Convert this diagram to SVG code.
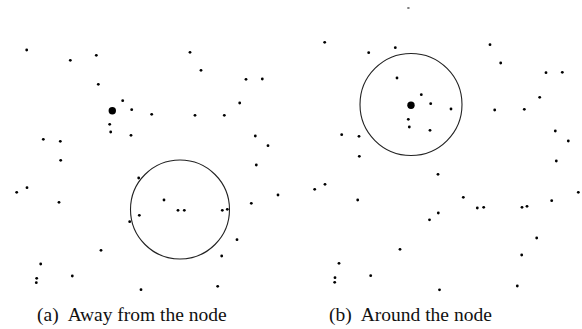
<svg xmlns="http://www.w3.org/2000/svg" width="582" height="329" viewBox="0 0 582 329">
<style>
.d{fill:#000}
.big{fill:#000}
.rng{fill:none;stroke:#222;stroke-width:1.1}
.cap{font-family:"Liberation Serif","Times New Roman",serif;font-size:19.5px;fill:#111}
</style>
<defs>
<circle id="p" r="1.4"/>
</defs>
<rect width="582" height="329" fill="#fff"/>
<g id="panel-a">
<circle class="rng" cx="180" cy="209.5" r="49.5"/>
<g class="d">
<use href="#p" x="26.7" y="50"/><use href="#p" x="70.3" y="60.3"/><use href="#p" x="96.3" y="55.3"/><use href="#p" x="98.3" y="84.3"/><use href="#p" x="122.7" y="100.7"/><use href="#p" x="131.7" y="109.7"/><use href="#p" x="109.7" y="124.3"/><use href="#p" x="110.7" y="132"/><use href="#p" x="131" y="135.3"/><use href="#p" x="43.3" y="139.3"/><use href="#p" x="60.3" y="141.3"/><use href="#p" x="60.7" y="160.3"/><use href="#p" x="190" y="52.3"/><use href="#p" x="201" y="70.3"/><use href="#p" x="246" y="79.3"/><use href="#p" x="262.3" y="79"/><use href="#p" x="239.7" y="103"/><use href="#p" x="151.7" y="114.3"/><use href="#p" x="195" y="115.3"/><use href="#p" x="224.3" y="115.3"/><use href="#p" x="255.3" y="136"/><use href="#p" x="268" y="145.7"/><use href="#p" x="27" y="187.7"/><use href="#p" x="16.7" y="192.3"/><use href="#p" x="59" y="202.3"/><use href="#p" x="138.7" y="178"/><use href="#p" x="139.3" y="215.3"/><use href="#p" x="129.7" y="221.7"/><use href="#p" x="101" y="250.3"/><use href="#p" x="40.7" y="264"/><use href="#p" x="36.7" y="278.3"/><use href="#p" x="36.3" y="282.7"/><use href="#p" x="72.3" y="276"/><use href="#p" x="141" y="289.7"/><use href="#p" x="164" y="200"/><use href="#p" x="178" y="210.3"/><use href="#p" x="184.3" y="210.3"/><use href="#p" x="222.3" y="210.3"/><use href="#p" x="227.3" y="209.3"/><use href="#p" x="256.3" y="165"/><use href="#p" x="278" y="195"/><use href="#p" x="251.3" y="203.3"/><use href="#p" x="237" y="239.7"/><use href="#p" x="221.7" y="256"/><use href="#p" x="217.7" y="286.3"/>
</g>
<circle class="big" cx="112.3" cy="110.7" r="3.7"/>
<text class="cap" x="37" y="321">(a)<tspan dx="9">Away from the node</tspan></text>
</g>
<g id="panel-b">
<circle class="rng" cx="411" cy="104.5" r="51"/>
<rect x="407.3" y="7.5" width="2.2" height="1" fill="#000"/>
<g class="d">
<use href="#p" x="324.7" y="42.3"/><use href="#p" x="368.7" y="52.7"/><use href="#p" x="395.3" y="47.7"/><use href="#p" x="397" y="78"/><use href="#p" x="421.3" y="94.7"/><use href="#p" x="430.7" y="103.7"/><use href="#p" x="408.3" y="119.3"/><use href="#p" x="409.3" y="127"/><use href="#p" x="430" y="130.3"/><use href="#p" x="341.7" y="134.7"/><use href="#p" x="359" y="136.3"/><use href="#p" x="359.3" y="156.3"/><use href="#p" x="490" y="44.7"/><use href="#p" x="500.7" y="63"/><use href="#p" x="546" y="72.7"/><use href="#p" x="562.3" y="72.3"/><use href="#p" x="539.7" y="97.3"/><use href="#p" x="451" y="109"/><use href="#p" x="494.7" y="110"/><use href="#p" x="524.3" y="109.3"/><use href="#p" x="555.3" y="131"/><use href="#p" x="568.3" y="141"/><use href="#p" x="438" y="174.3"/><use href="#p" x="325" y="184.3"/><use href="#p" x="314.7" y="189.3"/><use href="#p" x="357.7" y="200"/><use href="#p" x="438.3" y="213"/><use href="#p" x="429.5" y="219.8"/><use href="#p" x="400" y="249.3"/><use href="#p" x="339" y="263.3"/><use href="#p" x="335" y="277.7"/><use href="#p" x="334.7" y="282.3"/><use href="#p" x="370.7" y="275.7"/><use href="#p" x="439.5" y="289.8"/><use href="#p" x="556.3" y="161"/><use href="#p" x="578.3" y="192.3"/><use href="#p" x="463.3" y="197.3"/><use href="#p" x="551.7" y="200.7"/><use href="#p" x="477.3" y="208"/><use href="#p" x="483.7" y="207.3"/><use href="#p" x="522" y="207.3"/><use href="#p" x="527" y="206.3"/><use href="#p" x="536.7" y="238"/><use href="#p" x="521.7" y="255"/><use href="#p" x="517.3" y="286"/>
</g>
<circle class="big" cx="411" cy="105.3" r="3.7"/>
<text class="cap" x="329" y="321">(b)<tspan dx="9">Around the node</tspan></text>
</g>
</svg>
